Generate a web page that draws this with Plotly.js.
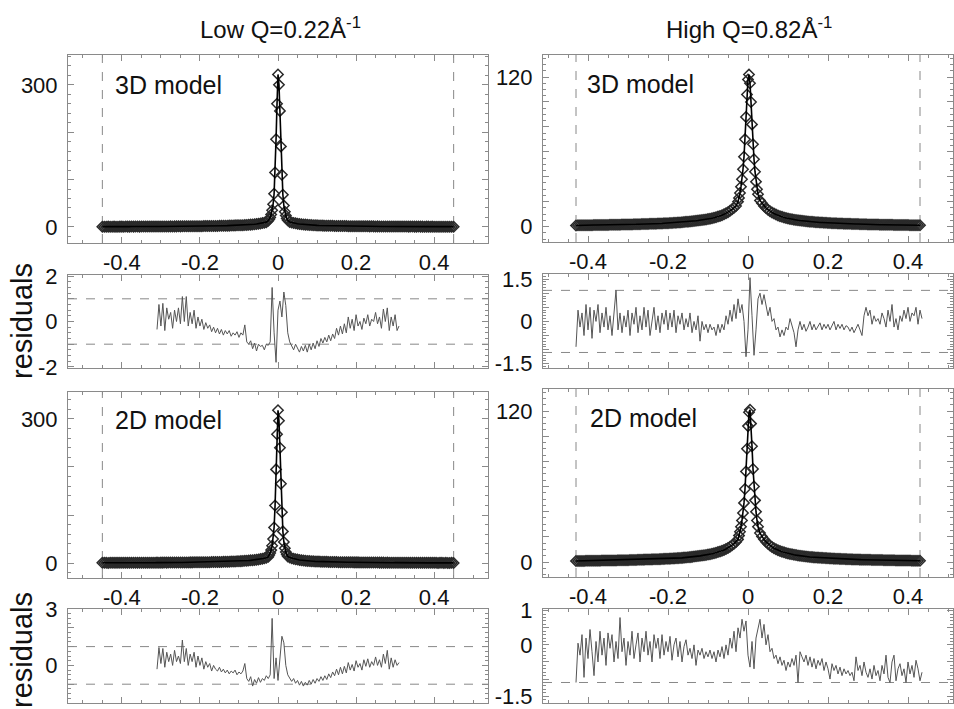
<!DOCTYPE html>
<html>
<head>
<meta charset="utf-8">
<script src="https://cdn.plot.ly/plotly-3.0.1.min.js"></script>
<style>html,body{margin:0;padding:0;background:#fff;}#chart{width:954px;height:709px;}</style>
</head>
<body>
<div id="chart"></div>
<script>
// ---------------- DATA ----------------
const columnTitles = ["Low Q=0.22Å<sup>-1</sup>", "High Q=0.82Å<sup>-1</sup>"];
const modelLabels = ["3D model", "2D model"];
const residualLabel = "residuals";

// energy sampling grids (wings coarse, peak fine)
function grid(a, b, step) { const out = []; const n = Math.round((b - a) / step); for (let i = 0; i <= n; i++) out.push(+(a + i * step).toFixed(4)); return out; }
function gridN(a, step, n) { const out = []; for (let i = 0; i < n; i++) out.push(+(a + i * step).toFixed(4)); return out; }

const mainXLow = grid(-0.45, -0.03, 0.005).concat(grid(-0.025, 0.025, 0.0025), grid(0.03, 0.45, 0.005));
const mainXHigh = grid(-0.43, -0.03, 0.005).concat(grid(-0.025, 0.025, 0.0025), grid(0.03, 0.43, 0.005));

const intensityLow3D = [
  0.5,0.4,0.5,0.6,0.4,0.5,0.6,0.5,0.5,0.6, 0.6,0.5,0.7,0.6,0.6,0.7,0.6,0.7,0.7,0.6,
  0.7,0.8,0.7,0.7,0.8,0.8,0.7,0.9,0.8,0.9, 0.9,1.0,0.9,1.0,1.0,1.1,1.0,1.1,1.1,1.2,
  1.1,1.2,1.2,1.3,1.3,1.3,1.4,1.4,1.5,1.5, 1.6,1.6,1.7,1.7,1.8,1.8,1.9,2.0,2.0,2.1,
  2.2,2.3,2.4,2.5,2.6,2.7,2.9,3.0,3.2,3.4, 3.3,3.5,3.7,3.9,4.2,4.5,4.8,5.2,5.6,6.0,
  6.5,7.2,8.0,9.0,10.0,
  13,16,20,26,35,48,70,115,185,260,322,300,245,170,110,68,45,32,24,18,14,
  10.5,9.3,8.3,7.5,6.8,
  6.2,5.7,5.2,4.8,4.4,4.1,3.8,3.6,3.4,3.2, 3.0,2.9,2.7,2.6,2.5,2.4,2.3,2.2,2.1,2.0,
  1.9,1.9,1.8,1.7,1.7,1.6,1.6,1.5,1.5,1.4, 1.4,1.3,1.3,1.2,1.3,1.2,1.1,1.2,1.1,1.0,
  1.1,1.0,1.0,0.9,1.0,0.9,0.9,0.8,0.9,0.8, 0.8,0.7,0.8,0.7,0.7,0.8,0.6,0.7,0.7,0.6,
  0.6,0.7,0.6,0.6,0.5,0.6,0.6,0.5,0.6,0.5, 0.5,0.5,0.4,0.5,0.5,0.4,0.5,0.4,0.4,0.5
];
const intensityLow2D = [
  0.6,0.5,0.5,0.4,0.6,0.5,0.5,0.6,0.6,0.5, 0.6,0.7,0.6,0.6,0.7,0.6,0.7,0.8,0.7,0.7,
  0.8,0.7,0.8,0.9,0.8,0.9,0.9,0.8,1.0,0.9, 1.0,1.0,1.1,1.0,1.1,1.2,1.1,1.2,1.2,1.3,
  1.2,1.3,1.4,1.3,1.4,1.5,1.5,1.6,1.6,1.7, 1.7,1.8,1.8,1.9,2.0,2.0,2.1,2.2,2.2,2.3,
  2.4,2.5,2.6,2.7,2.8,3.0,3.1,3.3,3.5,3.7, 3.9,4.1,4.4,4.7,5.0,5.3,5.7,6.1,6.6,7.1,
  7.7,8.3,9.1,10.0,11.0,
  13,17,21,27,36,50,74,120,195,268,318,296,240,165,106,66,44,31,23,18,14,
  11.5,10.2,9.0,8.1,7.3,
  6.6,6.0,5.5,5.0,4.6,4.3,4.0,3.7,3.5,3.3, 3.1,3.0,2.8,2.7,2.6,2.5,2.4,2.3,2.2,2.1,
  2.0,2.0,1.9,1.8,1.8,1.7,1.7,1.6,1.5,1.5, 1.5,1.4,1.4,1.3,1.3,1.2,1.3,1.2,1.1,1.1,
  1.1,1.0,1.0,1.0,0.9,1.0,0.9,0.9,0.8,0.9, 0.8,0.8,0.7,0.8,0.7,0.7,0.7,0.6,0.7,0.6,
  0.6,0.6,0.5,0.6,0.6,0.5,0.5,0.6,0.5,0.5, 0.5,0.4,0.5,0.5,0.4,0.5,0.4,0.4,0.5,0.4
];
const intensityHigh3D = [
  0.9,1.0,1.0,1.0,1.0,1.1,1.1,1.1,1.1,1.2, 1.2,1.2,1.2,1.3,1.3,1.3,1.3,1.4,1.4,1.4,
  1.4,1.5,1.5,1.6,1.6,1.6,1.6,1.7,1.7,1.8, 1.8,1.9,1.9,2.0,2.0,2.1,2.1,2.2,2.2,2.3,
  2.3,2.4,2.4,2.5,2.6,2.7,2.7,2.8,2.9,3.0, 3.1,3.2,3.3,3.5,3.6,3.8,3.9,4.1,4.2,4.4,
  4.6,4.8,5.0,5.2,5.5,5.7,6.0,6.3,6.7,7.1, 7.5,8.0,8.5,9.1,9.8,10.6,11.5,12.6,13.8,15.1,
  16.5,
  20,23,27,32,38,46,56,70,88,106,118,122,115,100,82,66,54,44,36,30,26,
  21,
  18.8,16.5,14.9,13.5,12.3,11.2,10.4,9.6,8.9,8.3, 7.8,7.3,6.9,6.5,6.1,5.8,5.5,5.3,5.0,4.8,
  4.6,4.4,4.2,4.1,3.9,3.8,3.6,3.5,3.4,3.3, 3.2,3.1,3.0,2.9,2.8,2.7,2.7,2.6,2.5,2.4,
  2.4,2.3,2.3,2.2,2.2,2.1,2.1,2.0,2.0,1.9, 1.9,1.8,1.8,1.7,1.7,1.7,1.6,1.6,1.6,1.5,
  1.5,1.5,1.5,1.4,1.4,1.4,1.3,1.3,1.3,1.3, 1.2,1.2,1.2,1.2,1.1,1.1,1.1,1.1,1.0,1.0
];
const intensityHigh2D = [
  0.8,0.85,0.9,0.9,0.9,0.95,1.0,1.0,1.0,1.05, 1.1,1.1,1.1,1.15,1.2,1.2,1.2,1.25,1.3,1.3,
  1.3,1.35,1.4,1.45,1.5,1.5,1.5,1.55,1.6,1.65, 1.7,1.75,1.8,1.85,1.9,1.95,2.0,2.05,2.1,2.15,
  2.2,2.25,2.3,2.4,2.5,2.55,2.6,2.7,2.8,2.9, 3.0,3.1,3.2,3.3,3.5,3.6,3.8,3.9,4.1,4.3,
  4.5,4.7,4.9,5.1,5.4,5.6,5.9,6.2,6.6,7.0, 7.4,7.9,8.4,9.0,9.6,10.4,11.2,12.2,13.4,14.6,
  16.0,
  18,21,24,28,33,39,47,58,72,90,108,119,121,110,92,74,60,49,40,33,28,
  23,
  20.3,18,16.1,14.5,13.1,12,11,10.2,9.4,8.8, 8.2,7.7,7.2,6.8,6.4,6.1,5.8,5.5,5.2,5.0,
  4.8,4.6,4.4,4.2,4.0,3.9,3.7,3.6,3.5,3.4, 3.3,3.2,3.1,3.0,2.9,2.8,2.7,2.6,2.55,2.5,
  2.45,2.4,2.3,2.2,2.15,2.1,2.05,2.0,1.95,1.9, 1.85,1.8,1.8,1.8,1.75,1.7,1.65,1.6,1.6,1.6,
  1.55,1.5,1.45,1.4,1.4,1.4,1.35,1.3,1.3,1.3, 1.25,1.2,1.2,1.2,1.15,1.1,1.1,1.1,1.05,1.0
];

// residuals (start, step 0.005)
const residStartLow = -0.31, residStartHigh = -0.43, residStep = 0.005;
const residLow3D = [
  -0.35,0.75,-0.2,0.8,-0.4,0.6,0.1,0.4,-0.3,0.5, 0.0,0.6,-0.1,1.1,0.0,1.1,-0.2,0.4,-0.1,0.5,
  -0.3,0.2,-0.2,0.1,-0.35,-0.05,-0.3,-0.15,-0.45,-0.25, -0.5,-0.3,-0.55,-0.35,-0.6,-0.4,-0.55,-0.4,-0.65,-0.5,
  -0.6,-0.45,-0.7,-0.5,-0.6,-0.15,-0.9,-1.0,-0.85,-1.2, -0.95,-1.3,-1.0,-1.1,-1.05,-1.25,-1.0,-1.05,-0.9,1.5,
  -0.5,-1.8,0.5,0.9,0.2,1.3,0.7,-0.5,-0.9,-1.05, -1.25,-1.0,-1.2,-1.35,-1.1,-1.3,-1.05,-1.35,-1.0,-1.25,
  -0.95,-1.2,-0.85,-1.1,-0.75,-0.95,-0.7,-0.9,-0.6,-0.85, -0.55,-0.75,-0.3,-0.6,-0.2,-0.55,-0.1,-0.5,0.2,-0.3,
  0.1,-0.4,0.3,-0.2,0.0,-0.35,0.15,-0.1,0.3,-0.2, 0.1,0.0,0.4,-0.1,0.2,-0.3,0.55,0.0,0.6,-0.4,
  0.2,-0.2,0.3,-0.4,-0.2
];
const residLow2D = [
  -0.2,0.95,0.1,0.9,-0.1,0.7,0.2,0.6,0.0,0.8, 0.2,0.5,0.1,1.35,0.2,0.9,0.0,0.6,0.2,0.7,
  -0.1,0.5,0.0,0.4,-0.2,0.2,-0.1,0.1,-0.3,0.0, -0.2,-0.3,-0.1,-0.35,-0.2,-0.4,-0.25,-0.45,-0.3,-0.4,
  -0.25,-0.5,-0.35,-0.45,-0.3,0.1,-0.7,-0.85,-0.6,-1.1, -0.75,-0.95,-0.65,-0.9,-0.7,-0.8,-0.55,-0.7,-0.5,2.5,
  -0.7,0.4,-0.8,0.3,1.55,1.2,0.0,-0.5,-0.7,-0.85, -0.7,-0.95,-0.8,-1.05,-0.85,-1.1,-0.9,-1.05,-0.8,-1.0,
  -0.75,-0.95,-0.7,-0.85,-0.6,-0.8,-0.55,-0.75,-0.45,-0.65, -0.35,-0.55,-0.2,-0.5,-0.1,-0.45,-0.05,-0.4,0.15,-0.25,
  0.05,-0.3,0.25,-0.1,0.1,-0.25,0.3,-0.05,0.35,-0.1, 0.2,0.0,0.45,0.0,0.3,-0.1,0.6,0.1,0.8,-0.2,
  0.4,-0.1,0.3,0.0,0.15
];
const residHigh3D = [
  -0.9,0.4,-0.2,0.3,-0.5,0.6,-0.3,0.5,-0.6,0.4, 0.0,0.6,-0.4,0.3,-0.2,0.5,-0.3,0.2,-0.5,0.4,
  1.1,-0.3,0.3,-0.4,0.2,-0.2,0.4,-0.5,0.3,-0.1, 0.5,-0.4,0.2,-0.3,0.5,-0.2,0.4,-0.5,0.1,0.5,
  -0.3,0.2,-0.4,0.3,-0.1,0.4,-0.3,0.3,-0.2,0.4, -0.4,0.2,-0.1,0.3,-0.3,0.1,-0.2,0.3,-0.4,0.0,
  -0.3,0.2,-0.7,0.0,-0.3,-0.1,-0.4,-0.1,-0.3,-0.2, -0.5,-0.1,-0.4,-0.1,-0.3,0.2,-0.1,0.4,0.0,0.6,
  0.1,0.8,0.3,0.6,0.0,-1.25,-0.3,1.55,0.2,-1.2, -0.3,0.8,1.0,0.6,0.95,0.5,0.2,0.5,0.0,0.1,
  -0.3,-0.2,-0.55,-0.3,-0.5,-0.2,-0.3,0.1,-0.2,-0.4, -0.9,-0.3,0.0,-0.3,-0.1,-0.35,-0.2,0.0,-0.3,-0.1,
  -0.3,-0.15,-0.05,-0.3,-0.1,-0.25,-0.1,-0.3,-0.15,0.0, -0.3,-0.1,-0.25,-0.1,-0.3,-0.15,-0.2,-0.35,-0.2,-0.4,
  -0.25,-0.1,-0.3,-0.5,0.2,0.5,0.2,0.4,-0.1,0.2, 0.0,0.1,-0.1,0.3,0.1,-0.2,0.4,0.0,0.6,-0.2,
  0.1,-0.3,0.2,0.0,0.4,0.1,0.5,0.0,0.3,0.2, 0.5,-0.1,0.4,0.1
];
const residHigh2D = [
  -1.1,0.05,-0.3,0.3,-0.95,0.2,-0.4,0.45,-0.2,-0.9, 0.1,-0.5,0.4,-0.3,0.2,-0.6,0.35,-0.1,0.3,-0.5,
  0.1,-0.4,0.8,-0.2,0.2,-0.6,0.1,-0.3,0.4,-0.4, 0.0,0.35,-0.5,0.2,-0.2,0.4,-0.3,0.1,-0.5,0.3,
  -0.1,0.2,-0.4,0.3,-0.3,0.1,-0.2,0.25,-0.45,0.0, 0.2,-0.35,0.1,-0.5,-0.05,0.15,-0.3,-0.1,-0.4,0.0,
  -0.6,-0.15,-0.3,-0.1,-0.4,-0.2,-0.35,-0.15,-0.4,-0.2, -0.5,-0.15,-0.35,-0.05,-0.4,0.0,-0.3,0.2,-0.1,0.4,
  -0.2,0.5,0.2,0.75,0.4,0.7,-0.3,-0.65,0.1,-0.7, 0.2,0.5,0.75,0.2,0.6,0.0,0.3,-0.2,-0.1,-0.4,
  -0.3,-0.55,-0.35,-0.6,-0.45,-0.75,-0.5,-0.65,-0.4,-0.6, -0.3,-1.1,-0.2,-0.35,-0.5,-0.3,-0.6,-0.35,-0.65,-0.4,
  -0.7,-0.45,-0.6,-0.4,-0.75,-0.5,-0.7,-1.0,-0.55,-0.75, -0.6,-0.85,-0.65,-0.9,-0.7,-0.85,-0.75,-0.9,-0.8,-1.05,
  -0.35,-0.75,-0.6,-0.9,-0.5,-0.8,-0.95,-0.7,-1.0,-0.6, -0.9,-0.75,-1.05,-0.6,-0.85,-0.3,-0.95,-1.1,-0.5,-0.3,
  -1.05,-0.7,-0.55,-0.9,-0.7,-1.1,-0.5,-0.85,-0.6,-0.95, -0.45,-0.7,-1.05,-0.8
];

// reference lines
const windowLow = [-0.45, 0.45];
const windowHigh = [-0.43, 0.43];
const bandLow = [-1, 1];
const bandHigh = [-1.1, 1.1];

// ---------------- LAYOUT HELPERS ----------------
const W = 954, H = 709;
const FONT = "Liberation Sans, Arial, Helvetica, sans-serif";
const dx = (a, b) => [a / W, b / W];
const dy = (top, bot) => [1 - bot / H, 1 - top / H];

const colL = dx(68, 488), colR = dx(543, 953);
const boxes = {
  1: {x: colL, y: dy(55, 243)},
  2: {x: colR, y: dy(55, 242)},
  3: {x: colL, y: dy(275, 368)},
  4: {x: colR, y: dy(274, 368)},
  5: {x: colL, y: dy(392, 578)},
  6: {x: colR, y: dy(389, 577)},
  7: {x: colL, y: dy(609, 703)},
  8: {x: colR, y: dy(609, 703)}
};
const xRangeL = [-0.538, 0.538], xRangeR = [-0.5125, 0.5125];

function ticksFrom(vals, labelled) {
  return vals.map(v => labelled.includes(v) ? String(v) : "");
}
const axisBase = {
  showline: true, linecolor: "#8a8a8a", linewidth: 1, mirror: "allticks",
  ticks: "inside", ticklen: 6, tickwidth: 1, tickcolor: "#8a8a8a",
  showgrid: false, zeroline: false, fixedrange: true,
  tickfont: {family: FONT, size: 22, color: "#111"}
};
function xAxis(n, range, showLabels) {
  const majors = [-0.4, -0.2, 0, 0.2, 0.4];
  return Object.assign({}, axisBase, {
    domain: boxes[n].x, range: range, anchor: "y" + (n === 1 ? "" : n),
    tickmode: "array", tickvals: majors,
    ticktext: showLabels ? majors.map(v => v === 0 ? "0" : v.toFixed(1)) : majors.map(() => ""),
    ticklabelstandoff: 0,
    minor: {ticks: "inside", ticklen: 3, tickcolor: "#8a8a8a", dtick: 0.05, tick0: 0, showgrid: false}
  });
}
function yAxis(n, range, vals, labelled, minorStep) {
  return Object.assign({}, axisBase, {
    domain: boxes[n].y, range: range, anchor: "x" + (n === 1 ? "" : n),
    tickmode: "array", tickvals: vals, ticktext: ticksFrom(vals, labelled),
    ticklabelstandoff: 5,
    minor: {ticks: "inside", ticklen: 3, tickcolor: "#8a8a8a", dtick: minorStep, tick0: 0, showgrid: false}
  });
}

// ---------------- TRACES ----------------
function ax(n) { return {xaxis: "x" + (n === 1 ? "" : n), yaxis: "y" + (n === 1 ? "" : n)}; }
function mainTraces(n, x, y) {
  return [
    Object.assign({type: "scatter", mode: "markers", x: x, y: y, hoverinfo: "skip",
      marker: {symbol: "diamond-open", size: 8, color: "#2a2a2a", line: {width: 1.5, color: "#2a2a2a"}}}, ax(n)),
    Object.assign({type: "scatter", mode: "lines", x: x, y: y, hoverinfo: "skip",
      line: {color: "#000", width: 1.6}}, ax(n))
  ];
}
function residTrace(n, start, y) {
  return Object.assign({type: "scatter", mode: "lines", x: gridN(start, residStep, y.length), y: y,
    hoverinfo: "skip", line: {color: "#555", width: 1}}, ax(n));
}

const data = [].concat(
  mainTraces(1, mainXLow, intensityLow3D),
  mainTraces(2, mainXHigh, intensityHigh3D),
  [residTrace(3, residStartLow, residLow3D), residTrace(4, residStartHigh, residHigh3D)],
  mainTraces(5, mainXLow, intensityLow2D),
  mainTraces(6, mainXHigh, intensityHigh2D),
  [residTrace(7, residStartLow, residLow2D), residTrace(8, residStartHigh, residHigh2D)]
);

// ---------------- SHAPES ----------------
const shapes = [];
const dash = {color: "#888", width: 1, dash: "dash"};
function vlines(n, xs) { xs.forEach(v => shapes.push({type: "line", xref: "x" + (n === 1 ? "" : n), yref: "y" + (n === 1 ? "" : n) + " domain", x0: v, x1: v, y0: 0, y1: 1, line: dash, layer: "below"})); }
function hlines(n, ys) { ys.forEach(v => shapes.push({type: "line", xref: "x" + n + " domain", yref: "y" + n, x0: 0, x1: 1, y0: v, y1: v, line: dash, layer: "below"})); }
vlines(1, windowLow); vlines(5, windowLow);
vlines(2, windowHigh); vlines(6, windowHigh);
hlines(3, bandLow); hlines(7, bandLow);
hlines(4, bandHigh); hlines(8, bandHigh);

// ---------------- ANNOTATIONS ----------------
const ann = [];
function txt(text, px, py, size, opts) {
  ann.push(Object.assign({text: text, xref: "paper", yref: "paper", x: px / W, y: 1 - py / H,
    showarrow: false, font: {family: FONT, size: size, color: "#111"}}, opts || {}));
}
txt(columnTitles[0], 280, 28, 24, {xanchor: "center", yanchor: "middle"});
txt(columnTitles[1], 749, 28, 24, {xanchor: "center", yanchor: "middle"});
txt(modelLabels[0], 113, 85, 25, {xanchor: "left", yanchor: "middle"});
txt(modelLabels[0], 585, 84, 25, {xanchor: "left", yanchor: "middle"});
txt(modelLabels[1], 113, 420, 25, {xanchor: "left", yanchor: "middle"});
txt(modelLabels[1], 588, 418, 25, {xanchor: "left", yanchor: "middle"});
txt(residualLabel, 22, 321, 29, {xanchor: "center", yanchor: "middle", textangle: -90});
txt(residualLabel, 22, 650, 29, {xanchor: "center", yanchor: "middle", textangle: -90});

const layout = {
  width: W, height: H, margin: {l: 0, r: 0, t: 0, b: 0},
  paper_bgcolor: "#fff", plot_bgcolor: "#fff", showlegend: false,
  font: {family: FONT},
  xaxis: xAxis(1, xRangeL, true),
  xaxis2: xAxis(2, xRangeR, true),
  xaxis3: xAxis(3, xRangeL, false),
  xaxis4: xAxis(4, xRangeR, false),
  xaxis5: xAxis(5, xRangeL, true),
  xaxis6: xAxis(6, xRangeR, true),
  xaxis7: xAxis(7, xRangeL, false),
  xaxis8: xAxis(8, xRangeR, false),
  yaxis: yAxis(1, [-34, 363], [0, 100, 200, 300], [0, 300], 20),
  yaxis2: yAxis(2, [-12.4, 137.7], [0, 20, 40, 60, 80, 100, 120], [0, 120], 5),
  yaxis3: yAxis(3, [-2.05, 2.05], [-2, -1, 0, 1, 2], [-2, 0, 2], 0.25),
  yaxis4: yAxis(4, [-1.65, 1.68], [-1.5, -1, -0.5, 0, 0.5, 1, 1.5], [-1.5, 0, 1.5], 0.1),
  yaxis5: yAxis(5, [-31, 356], [0, 100, 200, 300], [0, 300], 20),
  yaxis6: yAxis(6, [-11.9, 137.5], [0, 20, 40, 60, 80, 100, 120], [0, 120], 5),
  yaxis7: yAxis(7, [-2, 3], [-2, -1, 0, 1, 2, 3], [-2, 0, 3], 0.25),
  yaxis8: yAxis(8, [-1.7, 1.05], [-1.5, -1, -0.5, 0, 0.5, 1], [-1.5, 0, 1], 0.1),
  shapes: shapes, annotations: ann
};

Plotly.newPlot("chart", data, layout, {staticPlot: true, displayModeBar: false});
</script>
</body>
</html>
